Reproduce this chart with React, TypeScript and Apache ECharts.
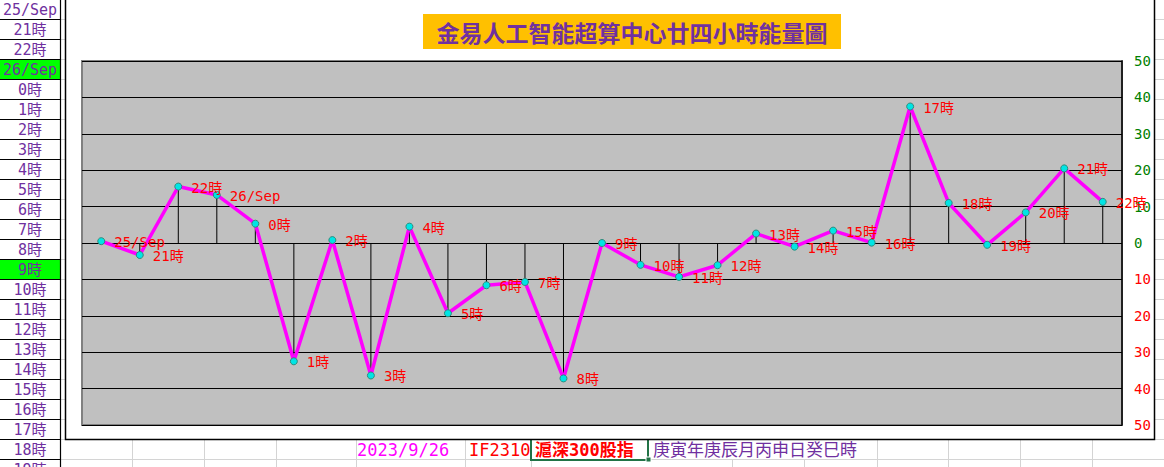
import React, { useEffect, useRef } from "react";
import * as echarts from "echarts";

// ---- data ----
const pointLabels = [
  "25/Sep", "21時", "22時", "26/Sep", "0時", "1時", "2時", "3時", "4時", "5時",
  "6時", "7時", "8時", "9時", "10時", "11時", "12時", "13時", "14時", "15時",
  "16時", "17時", "18時", "19時", "20時", "21時", "22時",
];
const energyValues = [
  0.5, -3.3, 15.5, 13.2, 5.3, -32.5, 0.8, -36.4, 4.5, -19.3,
  -11.6, -10.7, -37.2, 0, -6, -9.3, -6.1, 2.6, -1, 3.4,
  0.1, 37.5, 11, -0.5, 8.4, 20.5, 11.3,
];
const rowLabels = [
  "25/Sep", "21時", "22時", "26/Sep", "0時", "1時", "2時", "3時", "4時", "5時",
  "6時", "7時", "8時", "9時", "10時", "11時", "12時", "13時", "14時", "15時",
  "16時", "17時", "18時", "19時",
];
const highlightedRows = ["26/Sep", "9時"];
const chartTitle = "金易人工智能超算中心廿四小時能量圖";
const footerTexts = [
  { text: "2023/9/26", color: "#FF00FF", bold: false },
  { text: "IF2310", color: "#FF0000", bold: false },
  { text: "滬深300股指", color: "#FF0000", bold: true },
  { text: "庚寅年庚辰月丙申日癸巳時", color: "#7030A0", bold: false },
];

const MONO = '"DejaVu Sans Mono", "Noto Sans CJK TC", monospace';

export default function App() {
  const ref = useRef<HTMLDivElement>(null);

  useEffect(() => {
    if (!ref.current) return;
    const chart = echarts.init(ref.current, null, { renderer: "svg" });

    const g: any[] = [];
    // spreadsheet light gridlines
    for (let k = 0; k < 24; k++) {
      const y = 19.5 + 20 * k;
      g.push({
        type: "line", z: -5, silent: true,
        shape: { x1: 61, y1: y, x2: 1164, y2: y },
        style: { stroke: "#D4D4D4", lineWidth: 1 },
      });
    }
    const colLinesTop = [132.5, 204.5, 276.5, 356.5, 465.5, 877.5, 948.5, 1020.5, 1092.5];
    const colLinesBottom = [132.5, 204.5, 276.5, 356.5, 465.5, 531.5, 732.5, 804.5, 877.5, 948.5, 1020.5, 1092.5];
    colLinesTop.forEach((x) =>
      g.push({ type: "line", z: -5, silent: true, shape: { x1: x, y1: 439, x2: x, y2: 459.5 }, style: { stroke: "#D4D4D4", lineWidth: 1 } })
    );
    colLinesBottom.forEach((x) =>
      g.push({ type: "line", z: -5, silent: true, shape: { x1: x, y1: 459.5, x2: x, y2: 467 }, style: { stroke: "#D4D4D4", lineWidth: 1 } })
    );

    // left column
    rowLabels.forEach((lab, r) => {
      const top = r * 20 - 0.5;
      if (highlightedRows.includes(lab)) {
        g.push({ type: "rect", z: -4, silent: true, shape: { x: 0, y: top, width: 60, height: 20 }, style: { fill: "#00FF00" } });
      }
      g.push({
        type: "text", z: -3, silent: true,
        style: {
          text: lab, x: 30, y: top + 10.5, align: "center", verticalAlign: "middle",
          fill: "#7030A0", font: `15px ${MONO}`,
        },
      });
      g.push({
        type: "line", z: -3, silent: true,
        shape: { x1: 0, y1: top + 20, x2: 61, y2: top + 20 },
        style: { stroke: "#000", lineWidth: 1 },
      });
    });
    g.push({ type: "line", z: -3, silent: true, shape: { x1: 60.5, y1: 0, x2: 60.5, y2: 467 }, style: { stroke: "#000", lineWidth: 1.2 } });

    // footer row texts
    const footerX = [357, 469, 535, 653];
    footerTexts.forEach((f, i) => {
      g.push({
        type: "text", z: -3, silent: true,
        style: {
          text: f.text, x: footerX[i], y: 450, align: "left", verticalAlign: "middle",
          fill: f.color, font: `${f.bold ? "bold " : ""}17px ${MONO}`,
        },
      });
    });
    // selection box
    g.push({ type: "rect", z: -3, silent: true, shape: { x: 531, y: 439, width: 117, height: 21 }, style: { fill: "none", stroke: "#217346", lineWidth: 2 } });
    g.push({ type: "rect", z: -3, silent: true, shape: { x: 646, y: 457, width: 5, height: 5 }, style: { fill: "#217346", stroke: "#fff", lineWidth: 1 } });

    // chart frame
    g.push({
      type: "rect", z: -2, silent: true,
      shape: { x: 65.5, y: -2, width: 1089, height: 441.5 },
      style: { fill: "#FFFFFF", stroke: "#000", lineWidth: 1.5 },
    });

    // title
    g.push({ type: "rect", z: 10, silent: true, shape: { x: 423, y: 14, width: 418, height: 35 }, style: { fill: "#FFC000" } });
    g.push({
      type: "text", z: 11, silent: true,
      style: {
        text: chartTitle, x: 632, y: 32, align: "center", verticalAlign: "middle",
        fill: "#7030A0", font: 'bold 23px "Noto Sans CJK TC"',
      },
    });

    chart.setOption({
      animation: false,
      backgroundColor: "#FFFFFF",
      graphic: { elements: g },
      grid: {
        left: 82, right: 42, top: 61, bottom: 42,
        show: true, backgroundColor: "#C0C0C0", borderColor: "#808080", borderWidth: 2,
      },
      xAxis: {
        type: "category",
        data: pointLabels,
        boundaryGap: true,
        axisLine: { show: false },
        axisTick: { show: false },
        axisLabel: { show: false },
        splitLine: { show: false },
      },
      yAxis: {
        type: "value",
        position: "right",
        min: -50, max: 50, interval: 10,
        axisLine: { show: true, lineStyle: { color: "#000", width: 1.5 } },
        axisTick: { show: false },
        axisLabel: {
          margin: 12,
          fontSize: 14,
          fontFamily: MONO,
          formatter: (v: number) => String(Math.abs(v)),
          color: (v: any) => (Number(v) < 0 ? "#FF0000" : "#008000"),
        },
        splitLine: { show: true, lineStyle: { color: "#000", width: 1 } },
      },
      series: [
        {
          type: "bar",
          data: energyValues,
          barWidth: 1,
          silent: true,
          itemStyle: { color: "#000" },
          z: 2,
        },
        {
          type: "line",
          data: energyValues,
          z: 3,
          symbol: "circle",
          symbolSize: 7,
          lineStyle: { color: "#FF00FF", width: 3.5 },
          itemStyle: { color: "#00E5E5", borderColor: "#2E8B7A", borderWidth: 1 },
          label: {
            show: true,
            position: "right",
            distance: 9,
            offset: [0, 1],
            color: "#FF0000",
            fontSize: 14,
            fontFamily: MONO,
            formatter: (p: any) => pointLabels[p.dataIndex],
          },
        },
      ],
    });
    return () => chart.dispose();
  }, []);

  return (
    <div
      ref={ref}
      style={{ position: "absolute", left: 0, top: 0, width: 1164, height: 467 }}
    />
  );
}
